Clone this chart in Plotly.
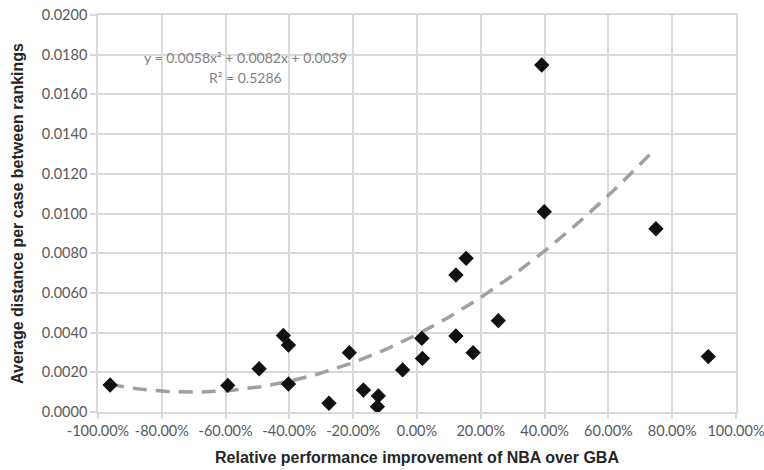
import numpy as np
import plotly.graph_objects as go

# Relative performance improvement of NBA over GBA (fraction) vs. average distance
improvement = [-0.962, -0.593, -0.495, -0.419, -0.403, -0.403, -0.276, -0.212,
               -0.168, -0.121, -0.124, -0.045, 0.015, 0.017, 0.122, 0.154,
               0.122, 0.176, 0.255, 0.391, 0.399, 0.749, 0.913]
avg_distance = [0.00136, 0.00134, 0.00218, 0.00386, 0.00337, 0.00141, 0.00044,
                0.00299, 0.00111, 0.00081, 0.00027, 0.00212, 0.00371, 0.00270,
                0.00690, 0.00774, 0.00383, 0.00299, 0.00460, 0.01748, 0.01009,
                0.00923, 0.00279]

# Polynomial (order 2) trendline coefficients and R²
coef_a, coef_b, coef_c = 0.0058, 0.0082, 0.0039
r_squared = 0.5286
trend_end = 0.73

x_tick_vals = [-1.0, -0.8, -0.6, -0.4, -0.2, 0.0, 0.2, 0.4, 0.6, 0.8, 1.0]
x_tick_text = ["-100.00%", "-80.00%", "-60.00%", "-40.00%", "-20.00%", "0.00%",
               "20.00%", "40.00%", "60.00%", "80.00%", "100.00%"]
y_tick_vals = [0.0, 0.002, 0.004, 0.006, 0.008, 0.010, 0.012, 0.014, 0.016, 0.018, 0.020]
y_tick_text = ["0.0000", "0.0020", "0.0040", "0.0060", "0.0080", "0.0100",
               "0.0120", "0.0140", "0.0160", "0.0180", "0.0200"]

tx = np.linspace(min(improvement), trend_end, 200)
ty = coef_a * tx ** 2 + coef_b * tx + coef_c

grid = "#d9d9d9"
tick_font = dict(family="Lato, Open Sans, sans-serif", size=14.5, color="#595959")
title_font = dict(family="Liberation Sans, Arial, sans-serif", size=16, color="#262626")
eq_font = dict(family="Lato, sans-serif", size=14, color="#7f7f7f")

fig = go.Figure()
fig.add_trace(go.Scatter(
    x=tx, y=ty, mode="lines",
    line=dict(color="#a0a0a0", width=3.5, dash="14px,9px"),
    hoverinfo="skip", showlegend=False,
))
fig.add_trace(go.Scatter(
    x=improvement, y=avg_distance, mode="markers",
    marker=dict(symbol="diamond", size=10.5, color="#111111",
                line=dict(color="#111111", width=1.2)),
    showlegend=False,
))

fig.add_annotation(
    x=0.231, y=0.8925, xref="paper", yref="paper", showarrow=False,
    text=f"y = {coef_a:.4f}x² + {coef_b:.4f}x + {coef_c:.4f}",
    font=eq_font, xanchor="center", yanchor="middle",
)
fig.add_annotation(
    x=0.231, y=0.843, xref="paper", yref="paper", showarrow=False,
    text=f"R² = {r_squared:.4f}",
    font=eq_font, xanchor="center", yanchor="middle",
)

fig.update_layout(
    width=764, height=470,
    margin=dict(l=98, r=28, t=15, b=58, autoexpand=False),
    paper_bgcolor="white", plot_bgcolor="white",
)
fig.update_xaxes(
    range=[-1.0, 1.0], tickvals=x_tick_vals, ticktext=x_tick_text,
    automargin=False, ticklabeloverflow="allow",
    showgrid=True, gridcolor=grid, gridwidth=1.5, zeroline=False,
    showline=True, linecolor=grid, linewidth=1.5, mirror=True,
    ticks="outside", ticklen=5, tickcolor=grid, tickwidth=1.5,
    tickfont=tick_font,
    title=dict(text="<b>Relative performance improvement of NBA over GBA</b>",
               font=title_font, standoff=14),
)
fig.update_yaxes(
    range=[0.0, 0.020], tickvals=y_tick_vals, ticktext=y_tick_text,
    automargin=False, ticklabeloverflow="allow",
    showgrid=True, gridcolor=grid, gridwidth=1.5, zeroline=False,
    showline=True, linecolor=grid, linewidth=1.5, mirror=True,
    ticks="outside", ticklen=6, tickcolor=grid, tickwidth=1.5,
    tickfont=tick_font,
    title=dict(text="<b>Average distance per case between rankings</b>",
               font=title_font, standoff=14),
)

fig.write_html("out.html")
